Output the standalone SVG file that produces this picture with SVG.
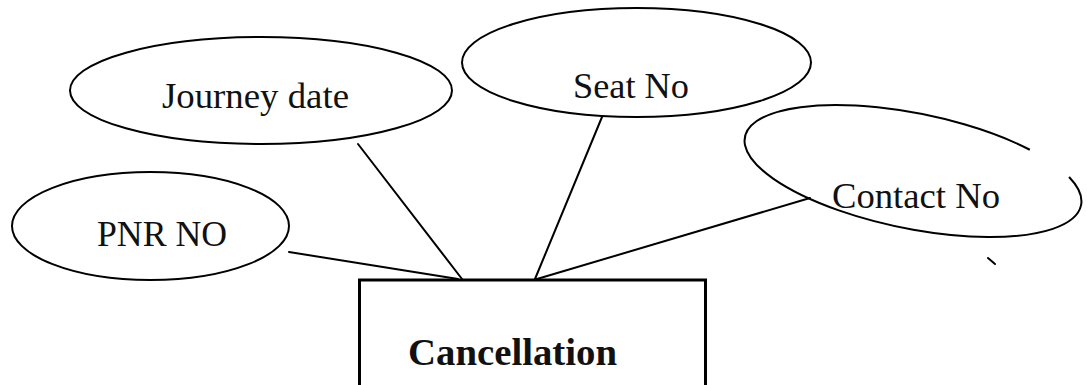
<svg xmlns="http://www.w3.org/2000/svg" width="1087" height="385" viewBox="0 0 1087 385">
  <style>
    .attr { fill: none; stroke: #000; stroke-width: 2; }
    .link { stroke: #000; stroke-width: 2; stroke-linecap: round; }
    .label { font-family: "Liberation Serif", "Times New Roman", serif; font-size: 36px; fill: #111; }
    .entity-label { font-family: "Liberation Serif", "Times New Roman", serif; font-size: 38px; font-weight: bold; fill: #111; }
  </style>
  <rect width="1087" height="385" fill="#fff"/>

  <!-- attribute-to-entity connectors -->
  <g id="connectors">
    <line class="link" x1="289" y1="252" x2="458" y2="279"/>
    <line class="link" x1="358" y1="144" x2="462" y2="279"/>
    <line class="link" x1="602" y1="117" x2="535" y2="279"/>
    <line class="link" x1="810" y1="198" x2="537" y2="279"/>
  </g>

  <g id="journey-date">
    <ellipse class="attr" cx="261" cy="90.5" rx="191" ry="53.5"/>
    <text class="label" x="162" y="108" textLength="187" lengthAdjust="spacingAndGlyphs">Journey date</text>
  </g>

  <g id="seat-no">
    <ellipse class="attr" cx="636.5" cy="62.5" rx="174.5" ry="54.5"/>
    <text class="label" x="573" y="98" textLength="116" lengthAdjust="spacingAndGlyphs">Seat No</text>
  </g>

  <g id="pnr-no">
    <ellipse class="attr" cx="150.5" cy="226" rx="138.5" ry="54"/>
    <text class="label" x="97" y="246" textLength="130" lengthAdjust="spacingAndGlyphs">PNR NO</text>
  </g>

  <g id="contact-no">
    <!-- tilted ellipse with a short break in its upper-right edge -->
    <path class="attr" transform="translate(913,171) rotate(11.5)" d="M154.14,-25.25 A171.5,57.6 0 1 1 110.24,-44.12"/>
    <line class="link" x1="988" y1="258" x2="995" y2="264" stroke-width="2.5"/>
    <text class="label" x="832" y="208" textLength="168" lengthAdjust="spacingAndGlyphs">Contact No</text>
  </g>

  <g id="cancellation">
    <rect x="359.5" y="280" width="346" height="130" fill="none" stroke="#000" stroke-width="3"/>
    <text class="entity-label" x="408" y="365" textLength="209" lengthAdjust="spacingAndGlyphs">Cancellation</text>
  </g>
</svg>
